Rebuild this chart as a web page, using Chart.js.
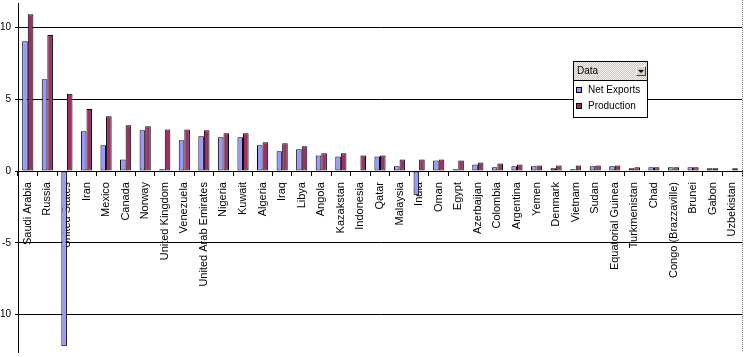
<!DOCTYPE html>
<html>
<head>
<meta charset="utf-8">
<script src="https://cdn.jsdelivr.net/npm/chart.js@4/dist/chart.umd.min.js"></script>
<style>
  html, body { margin:0; padding:0; background:#fff; }
  #wrap { position:relative; width:755px; height:357px; }
  #c { position:absolute; left:0; top:0; }
  #legend { position:absolute; left:573px; top:61px; width:75px; font:10px "Liberation Sans", Arial, sans-serif; color:#000; }
  #legend .hdr { position:relative; height:18px; border:1px solid #000;
    background: repeating-conic-gradient(#cfc6bf 0 25%, #f6f3f0 0 50%) 0 0/2px 2px; }
  #legend .hdr span { position:absolute; left:3px; top:3px; }
  #legend .btn { position:absolute; right:1px; top:4px; width:10px; height:10px; background:#d4d0c8;
    border-top:1px solid #fff; border-left:1px solid #fff; border-right:1px solid #404040; border-bottom:1px solid #404040; box-sizing:border-box; }
  #legend .btn:after { content:""; position:absolute; left:1px; top:3px; border-left:3px solid transparent; border-right:3px solid transparent; border-top:3px solid #000; }
  #legend .body { border:1px solid #000; border-top:none; background:#fff; padding:1px 0 3px 0; }
  #legend .item { position:relative; height:16px; line-height:16px; padding-left:14px; white-space:nowrap; }
  #legend .sw { position:absolute; left:2px; top:5px; width:4px; height:4px; border:1px solid #000; }
</style>
</head>
<body>
<div id="wrap">
  <canvas id="c" width="755" height="357"></canvas>
  <div id="legend"></div>
</div>
<script>
const categories = ["Saudi Arabia","Russia","United States","Iran","Mexico","Canada","Norway","United Kingdom","Venezuela","United Arab Emirates","Nigeria","Kuwait","Algeria","Iraq","Libya","Angola","Kazakstan","Indonesia","Qatar","Malaysia","India","Oman","Egypt","Azerbaijan","Colombia","Argentina","Yemen","Denmark","Vietnam","Sudan","Equatorial Guinea","Turkmenistan","Chad","Congo (Brazzaville)","Brunei","Gabon","Uzbekistan"];
const netExports = [9.04,6.39,-12.2,2.77,1.79,0.81,2.84,0.12,2.14,2.42,2.35,2.35,1.79,1.37,1.51,1.09,1.02,-0.07,1.02,0.33,-1.69,0.74,0.12,0.46,0.26,0.33,0.33,0.19,0.12,0.33,0.33,0.19,0.26,0.26,0.26,0.19,0.05];
const production = [10.92,9.48,5.39,4.32,3.81,3.18,3.11,2.9,2.9,2.84,2.63,2.63,2.0,1.93,1.72,1.23,1.23,1.09,1.09,0.81,0.81,0.81,0.74,0.6,0.53,0.46,0.39,0.39,0.39,0.39,0.39,0.26,0.26,0.26,0.26,0.19,0.19];
const seriesNames = ["Net Exports","Production"];
const seriesColors = ["#9999FF","#993366"];
const yTickValues = [-10,-5,0,5,10];
const yMin = -12.6, yMax = 11.7;
const legendTitle = "Data";

const axisFont = { family: "'Liberation Sans Narrow', 'Liberation Sans', Arial, sans-serif", size: 11 };

const rightBorder = {
  id: 'rightBorder',
  afterDraw(chart) {
    const ctx = chart.ctx, a = chart.chartArea;
    ctx.save();
    ctx.strokeStyle = '#808080';
    ctx.lineWidth = 1;
    ctx.setLineDash([1,1]);
    ctx.beginPath();
    ctx.moveTo(Math.round(a.right) + 0.5, 0);
    ctx.lineTo(Math.round(a.right) + 0.5, a.bottom);
    ctx.stroke();
    ctx.restore();
  }
};

new Chart(document.getElementById('c'), {
  type: 'bar',
  data: {
    labels: categories,
    datasets: [
      { label: seriesNames[0], data: netExports, backgroundColor: seriesColors[0], borderColor: '#000', borderWidth: 1, borderSkipped: false },
      { label: seriesNames[1], data: production, backgroundColor: seriesColors[1], borderColor: '#000', borderWidth: 1, borderSkipped: false }
    ]
  },
  options: {
    responsive: false,
    animation: false,
    devicePixelRatio: 1,
    layout: { padding: { top: 3, bottom: 5, right: 13, left: 0 } },
    datasets: { bar: { categoryPercentage: 0.571, barPercentage: 1.0 } },
    plugins: { legend: { display: false }, tooltip: { enabled: false } },
    scales: {
      x: {
        position: { y: 0 },
        grid: { drawOnChartArea: false, drawTicks: true, tickLength: 4, color: '#000', offset: true },
        border: { display: true, color: '#000', width: 1 },
        ticks: { autoSkip: false, minRotation: 90, maxRotation: 90, color: '#000', font: axisFont, padding: 7 },
        afterFit(s) { s.height = 0; s.paddingLeft = 0; s.paddingRight = 0; }
      },
      y: {
        min: yMin, max: yMax,
        grid: { color: '#000', drawTicks: true, tickLength: 3 },
        border: { display: true, color: '#000', width: 1 },
        ticks: { color: '#000', font: { family: "'Liberation Sans', Arial, sans-serif", size: 10 }, padding: 4 },
        afterBuildTicks(s) { s.ticks = yTickValues.map(v => ({ value: v })); },
        afterFit(s) { s.width = 18; s.paddingTop = 0; s.paddingBottom = 0; }
      }
    }
  },
  plugins: [rightBorder]
});

// legend built from the series names
const lg = document.getElementById('legend');
let html = '<div class="hdr"><span>' + legendTitle + '</span><div class="btn"></div></div><div class="body">';
seriesNames.forEach((n, i) => {
  html += '<div class="item"><div class="sw" style="background:' + seriesColors[i] + '"></div>' + n + '</div>';
});
html += '</div>';
lg.innerHTML = html;
</script>
</body>
</html>
